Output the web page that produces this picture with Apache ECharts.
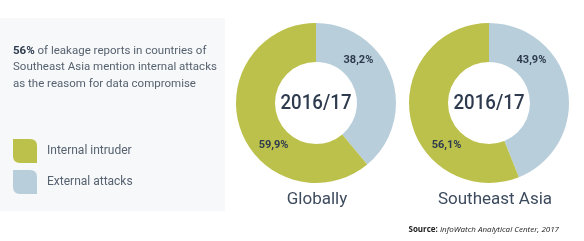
<!DOCTYPE html>
<html>
<head>
<meta charset="utf-8">
<script src="https://cdn.jsdelivr.net/npm/echarts@6/dist/echarts.min.js"></script>
<style>
html,body{margin:0;padding:0;background:#fff;}
#c{width:584px;height:241px;}
</style>
</head>
<body>
<div id="c"></div>
<script>
// ---- data ----
const categories = ['External attacks', 'Internal intruder'];
const legendOrder = ['Internal intruder', 'External attacks'];
const regions = ['Globally', 'Southeast Asia'];
const globalValues = [38.2, 59.9];
const seaValues = [43.9, 56.1];
const periodLabel = '2016/17';
const headline = ['56%', ' of leakage reports in countries of', 'Southeast Asia mention internal attacks', 'as the reasom for data compromise'];
const sourceText = ['Source:', ' InfoWatch Analytical Center, 2017'];

// ---- style ----
const GREEN = '#bcc14b';
const BLUE = '#b8cedb';
const DARK = '#2e3b4e';
const GREY = '#56626f';
const FONT = 'Roboto';
const colorMap = { 'External attacks': BLUE, 'Internal intruder': GREEN };

const centers = [[316, 103], [489, 103]];
const R_OUT = 80, R_IN = 41, R_LABEL = 60;

function fmt(v) { return v.toFixed(1).replace('.', ',') + '%'; }

function makePie(values, idx) {
  const c = centers[idx];
  return {
    type: 'pie',
    name: regions[idx],
    center: c,
    radius: [R_IN, R_OUT],
    startAngle: 90,
    clockwise: true,
    avoidLabelOverlap: false,
    silent: true,
    data: categories.map((n, i) => ({ name: n, value: values[i], itemStyle: { color: colorMap[n] } })),
    label: {
      show: true,
      position: 'inside',
      formatter: p => fmt(p.value),
      color: DARK,
      fontFamily: FONT,
      fontWeight: 'bold',
      fontSize: 11
    },
    labelLine: { show: false },
    labelLayout: function (p) {
      // external label upper-right at 45deg, internal label lower-left at 225deg
      const ang = p.dataIndex === 0 ? 45 : 225;
      const rad = ang * Math.PI / 180;
      return {
        x: c[0] + R_LABEL * Math.sin(rad),
        y: c[1] - R_LABEL * Math.cos(rad),
        align: 'center',
        verticalAlign: 'middle'
      };
    }
  };
}

const leafPath = 'path://M0,0 L17,0 Q24,0 24,7 L24,24 L7,24 Q0,24 0,17 Z';

function centerText(c) {
  return {
    type: 'text', x: c[0], y: c[1] + 1, scaleX: 0.89,
    style: { x: 0, y: 0, text: periodLabel, align: 'center', verticalAlign: 'middle', fontFamily: FONT, fontWeight: 500, fontSize: 21, fill: DARK }
  };
}

const chart = echarts.init(document.getElementById('c'));
chart.setOption({
  animation: false,
  backgroundColor: '#ffffff',
  legend: {
    data: legendOrder,
    orient: 'vertical',
    left: 13,
    top: 139,
    padding: 0,
    itemWidth: 24,
    itemHeight: 24,
    itemGap: 7,
    icon: leafPath,
    selectedMode: false,
    textStyle: { color: GREY, fontFamily: FONT, fontSize: 12, padding: [0, 0, 0, 5] }
  },
  graphic: [
    { type: 'rect', z: -10, shape: { x: 0, y: 18, width: 225, height: 193 }, style: { fill: '#f7f8fa' } },
    {
      type: 'text', left: 13, top: 45,
      style: {
        text: '{b|' + headline[0] + '}{n|' + headline[1] + '}\n{n|' + headline[2] + '}\n{n|' + headline[3] + '}',
        rich: {
          b: { fontFamily: FONT, fontWeight: 'bold', fontSize: 11.5, fill: DARK, lineHeight: 16.5 },
          n: { fontFamily: FONT, fontSize: 11.5, fill: GREY, lineHeight: 16.5 }
        }
      }
    },
    centerText(centers[0]),
    centerText(centers[1]),
    { type: 'text', style: { x: centers[0][0] + 1, y: 200, text: regions[0], align: 'center', verticalAlign: 'middle', fontFamily: FONT, fontSize: 17, fill: '#3d4b5e' } },
    { type: 'text', style: { x: centers[1][0] + 6, y: 200, text: regions[1], align: 'center', verticalAlign: 'middle', fontFamily: FONT, fontSize: 17, fill: '#3d4b5e' } },
    {
      type: 'text',
      style: {
        x: 559, y: 230, align: 'right', verticalAlign: 'middle',
        text: '{b|' + sourceText[0] + '}{i|' + sourceText[1] + '}',
        rich: {
          b: { fontFamily: 'Open Sans', fontWeight: 'bold', fontSize: 8, fill: '#222' },
          i: { fontFamily: 'Open Sans', fontStyle: 'italic', fontSize: 8, fill: '#222' }
        }
      }
    }
  ],
  series: [makePie(globalValues, 0), makePie(seaValues, 1)]
});
</script>
</body>
</html>
